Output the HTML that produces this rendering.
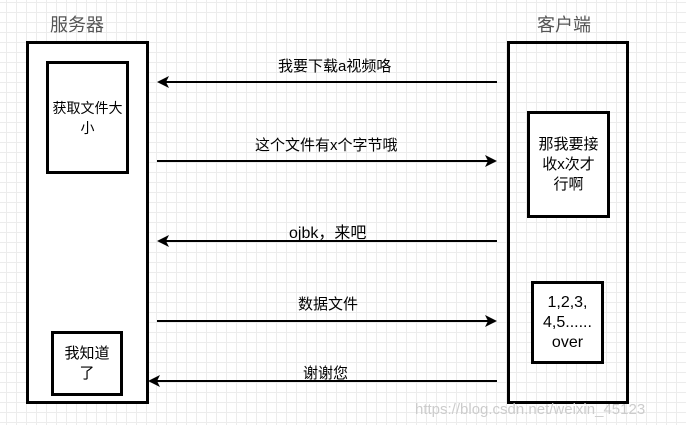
<!DOCTYPE html>
<html><head><meta charset="utf-8"><style>
body{margin:0;width:686px;height:425px;overflow:hidden;background:#fff;
background-image:linear-gradient(#ececec 1px,transparent 1px),linear-gradient(90deg,#ececec 1px,transparent 1px);background-size:10px 10px;background-position:6px 2px;
font-family:"Liberation Sans","Noto Sans CJK SC",sans-serif;position:relative}
.b{position:absolute;border:3px solid #000;background:#fff;box-sizing:border-box;display:flex;align-items:center;justify-content:center;text-align:center;font-size:14px;line-height:20px}
.t{position:absolute;font-size:15px;color:#000;white-space:nowrap}
</style></head><body>
<div class="t" style="left:50px;top:11px;font-size:18px;color:#555">服务器</div>
<div class="t" style="left:537px;top:11px;font-size:18px;color:#555">客户端</div>
<div class="b" style="left:26px;top:41px;width:123px;height:363px"></div>
<div class="b" style="left:46px;top:61px;width:83px;height:113px">获取文件大<br>小</div>
<div class="b" style="left:51px;top:331px;width:72px;height:65px;font-size:15px">我知道<br>了</div>
<div class="b" style="left:527px;top:111px;width:83px;height:107px;font-size:15px">那我要接<br>收x次才<br>行啊</div>
<div class="b" style="left:507px;top:41px;width:122px;height:363px;background:transparent"></div>
<div class="b" style="left:531px;top:281px;width:73px;height:83px;font-size:16px">1,2,3,<br>4,5......<br>over</div>
<div class="t" style="left:278px;top:55px">我要下载a视频咯</div>
<div class="t" style="left:255px;top:134px">这个文件有x个字节哦</div>
<div class="t" style="left:289px;top:219px;font-size:16px">ojbk，来吧</div>
<div class="t" style="left:298px;top:293px">数据文件</div>
<div class="t" style="left:303px;top:362px">谢谢您</div>
<svg width="686" height="425" style="position:absolute;left:0;top:0">
<g stroke="#000" stroke-width="2">
<line x1="497" y1="82" x2="162" y2="82"/>
<line x1="157" y1="161" x2="492" y2="161"/>
<line x1="497" y1="241" x2="162" y2="241"/>
<line x1="157" y1="321" x2="492" y2="321"/>
<line x1="497" y1="381" x2="153" y2="381"/>
</g>
<g fill="#000">
<path d="M157 82l12-6-3 6 3 6z"/>
<path d="M497 161l-12-6 3 6-3 6z"/>
<path d="M157 241l12-6-3 6 3 6z"/>
<path d="M497 321l-12-6 3 6-3 6z"/>
<path d="M148 381l12-6-3 6 3 6z"/>
</g>
<text x="415" y="414" font-size="15" fill="#ccc" font-family="Liberation Sans">https://blog.csdn.net/weixin_45123</text>
</svg>
</body></html>
